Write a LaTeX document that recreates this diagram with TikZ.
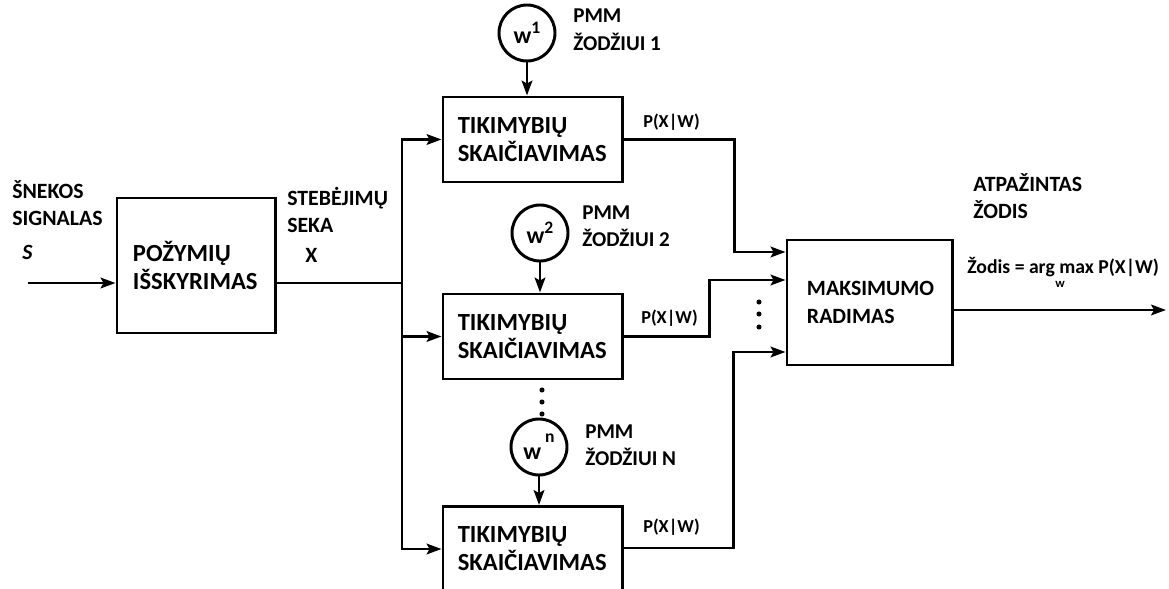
\documentclass[tikz,border=0pt]{standalone}
\usepackage{fontspec}
\setmainfont{Carlito}
\usetikzlibrary{arrows.meta,positioning,calc}

\tikzset{
  blokas/.style={draw, line width=2.1pt, align=left, font=\fontsize{17.5}{20}\selectfont\bfseries},
  modelis/.style={draw, circle, line width=2.1pt, minimum size=1.4cm, inner sep=0pt, font=\fontsize{17}{18}\selectfont\bfseries},
  rodykle/.style={line width=2.1pt, -{Stealth[length=10.5pt,width=7.5pt,inset=2pt]}},
  linija/.style={line width=2.1pt},
  uzrasas/.style={anchor=west, inner sep=0pt, align=left, font=\fontsize{15.5}{19}\selectfont\bfseries},
  tikimybe/.style={anchor=west, inner sep=0pt, font=\fontsize{13}{15}\selectfont\bfseries},
}
\newcommand{\laipsnis}[1]{\raisebox{0.42em}{\fontsize{12.5}{13}\selectfont #1}}

\begin{document}
\begin{tikzpicture}[x=0.025cm, y=-0.025cm]
\clip (0,0) rectangle (1169,589);
\fill[white] (0,0) rectangle (1169,589);

\node[blokas, minimum width=3.95cm, minimum height=3.375cm, inner xsep=0.4cm, text width=3.15cm] (pozymiai) at (196,265.5) {POŽYMIŲ\\IŠSKYRIMAS};
\node[blokas, minimum width=4.475cm, minimum height=2.125cm, inner xsep=0.37cm, text width=3.735cm] (tik1) at (532.5,139.5) {TIKIMYBIŲ\\SKAIČIAVIMAS};
\node[blokas, minimum width=4.475cm, minimum height=2.125cm, inner xsep=0.37cm, text width=3.735cm] (tik2) at (532.5,336.5) {TIKIMYBIŲ\\SKAIČIAVIMAS};
\node[blokas, minimum width=4.475cm, minimum height=2.125cm, inner xsep=0.37cm, text width=3.735cm] (tikn) at (532.5,549) {TIKIMYBIŲ\\SKAIČIAVIMAS};
\node[blokas, font=\fontsize{15.5}{20}\selectfont\bfseries, minimum width=4.125cm, minimum height=3.125cm, inner xsep=0.5cm, text width=3.125cm] (maks) at (869.5,302.5) {MAKSIMUMO\\RADIMAS};

\node[modelis] (w1) at (527,33) {w\laipsnis{1}};
\node[modelis] (w2) at (540,233) {w\laipsnis{2}};
\node[modelis] (wn) at (539,447) {w\,\raisebox{0.3em}{\laipsnis{n}}};

\node[uzrasas] (signalas) at (12,203) {ŠNEKOS\\SIGNALAS};
\node[uzrasas] (s) at (22,252) {\textit{S}};
\node[uzrasas] (seka) at (287,210) {STEBĖJIMŲ\\SEKA};
\node[uzrasas] (xlab) at (305,255) {X};
\node[uzrasas, font=\fontsize{15}{20}\selectfont\bfseries] (pmm1) at (573,30) {PMM\\ŽODŽIUI 1};
\node[uzrasas, font=\fontsize{15}{19}\selectfont\bfseries] (pmm2) at (582,226) {PMM\\ŽODŽIUI 2};
\node[uzrasas, font=\fontsize{15}{19}\selectfont\bfseries] (pmmn) at (585,445) {PMM\\ŽODŽIUI N};
\node[uzrasas] (atpazintas) at (973,196) {ATPAŽINTAS\\ŽODIS};
\node[uzrasas, font=\fontsize{14}{17}\selectfont\bfseries] (formule) at (967,267) {Žodis = arg max P(X|W)};
\node[inner sep=0pt, font=\fontsize{9}{10}\selectfont\bfseries] (wsub) at (1060,284) {w};

\node[tikimybe] (p1) at (643,122) {P(X|W)};
\node[tikimybe] (p2) at (641,318) {P(X|W)};
\node[tikimybe] (pn) at (643,527) {P(X|W)};

\coordinate (iejimas) at (28,283);
\coordinate (magistrale) at (402,283);
\coordinate (m1) at (maks.west |- 0,252);
\coordinate (m2) at (maks.west |- 0,280);
\coordinate (m3) at (maks.west |- 0,352);
\coordinate (isejimas) at (1166,310);

\draw[rodykle] (iejimas) -- (iejimas -| pozymiai.west);
\draw[linija] (pozymiai.east |- iejimas) -- (magistrale);
\draw[rodykle] (magistrale) |- (tik1.west);
\draw[rodykle] (magistrale) |- (tik2.west);
\draw[rodykle] (magistrale) |- (tikn.west);

\draw[rodykle] (w1) -- (w1 |- tik1.north);
\draw[rodykle] (w2) -- (w2 |- tik2.north);
\draw[rodykle] (wn) -- (wn |- tikn.north);

\draw[rodykle] (tik1.east) -- ++(111,0) |- (m1);
\draw[rodykle] (tik2.east) -- ++(86,0) |- (m2);
\draw[rodykle] (tikn.east |- 0,548) -- ++(110,0) |- (m3);
\draw[rodykle] (maks.east |- isejimas) -- (isejimas);

\foreach \y in {390,402,414} \fill (542,\y) circle (1.8pt);
\foreach \y in {302,314,327} \fill (759,\y) circle (1.8pt);
\end{tikzpicture}
\end{document}
